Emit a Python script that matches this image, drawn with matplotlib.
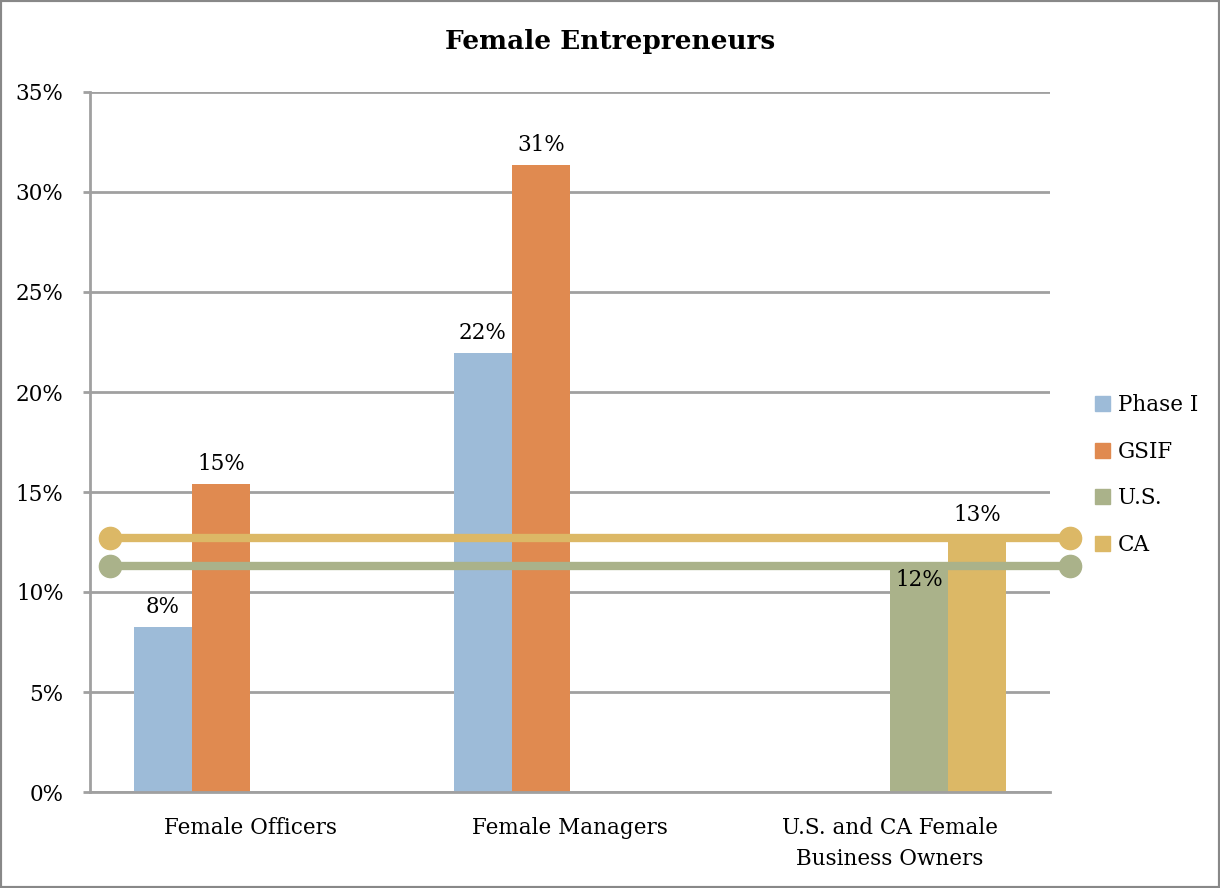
import matplotlib
matplotlib.use("Agg")
import matplotlib.pyplot as plt
import numpy as np
from matplotlib.patches import Rectangle

categories = ["Female Officers", "Female Managers", "U.S. and CA Female\nBusiness Owners"]
series_names = ["Phase I", "GSIF", "U.S.", "CA"]
phase1 = [8.25, 21.95, 0]
gsif = [15.4, 31.35, 0]
us = [0, 0, 11.45]
ca = [0, 0, 12.85]
us_line = 11.3
ca_line = 12.7
labels_phase1 = ["8%", "22%", None]
labels_gsif = ["15%", "31%", None]
labels_us = [None, None, "12%"]
labels_ca = [None, None, "13%"]
yticks = [0, 5, 10, 15, 20, 25, 30, 35]

colors = ["#9DBBD8", "#E08A50", "#AAB28A", "#DCB866"]
plt.rcParams["font.family"] = ["DejaVu Serif"]

fs = 15.5
fig = plt.figure(figsize=(12.2, 8.88), dpi=100)
ax = fig.add_axes([90/1220, 1 - 792/888, 960/1220, 700/888])

x = np.arange(len(categories))
w = 58/320
all_vals = [phase1, gsif, us, ca]
all_labels = [labels_phase1, labels_gsif, labels_us, labels_ca]
for i, (vals, c, name, labs) in enumerate(zip(all_vals, colors, series_names, all_labels)):
    offs = (i - 1.5) * w
    ax.bar(x + offs, vals, width=w, color=c, label=name, zorder=2)
    for xi, v, lab in zip(x, vals, labs):
        if lab is None:
            continue
        if name == "U.S.":
            ax.text(xi + offs, v - 0.3, lab, ha="center", va="top", fontsize=fs, zorder=5)
        else:
            ax.text(xi + offs, v + 0.45, lab, ha="center", va="bottom", fontsize=fs, zorder=5)

xl = [-0.4375, 2.5625]
ax.plot(xl, [us_line, us_line], color="#AAB28A", lw=6, marker="o", ms=16, zorder=4, clip_on=False, solid_capstyle="butt")
ax.plot(xl, [ca_line, ca_line], color="#DCB866", lw=6, marker="o", ms=16, zorder=4, clip_on=False, solid_capstyle="butt")

ax.set_xlim(-0.5, 2.5)
ax.set_ylim(0, 35)
ax.set_yticks(yticks)
ax.set_yticklabels([f"{t}%" for t in yticks], fontsize=fs)
ax.set_xticks(x)
ax.set_xticklabels(categories, fontsize=fs, linespacing=1.5)
ax.tick_params(axis="x", length=0, pad=18)
ax.tick_params(axis="y", length=5, width=2, color="#A0A0A0", pad=14)
ax.grid(axis="y", color="#A0A0A0", lw=2, zorder=0)
ax.set_axisbelow(True)
for s in ["top", "right"]:
    ax.spines[s].set_visible(False)
for s in ["left", "bottom"]:
    ax.spines[s].set_color("#A0A0A0")
    ax.spines[s].set_linewidth(2)

fig.text(610/1220, 1 - 42/888, "Female Entrepreneurs", ha="center", va="center", fontsize=19, fontweight="bold")

handles = [Rectangle((0, 0), 1, 1, color=c) for c in colors]
fig.legend(handles, series_names, loc="center left", bbox_to_anchor=(1076/1220, 1 - 475/888),
           frameon=False, fontsize=fs, handlelength=0.7, handleheight=0.7, handletextpad=0.35,
           labelspacing=1.15)

fig.patches.append(Rectangle((0, 0), 1, 1, transform=fig.transFigure, fill=False,
                             edgecolor="#888888", lw=3))
fig.savefig("out.png", dpi=100)
